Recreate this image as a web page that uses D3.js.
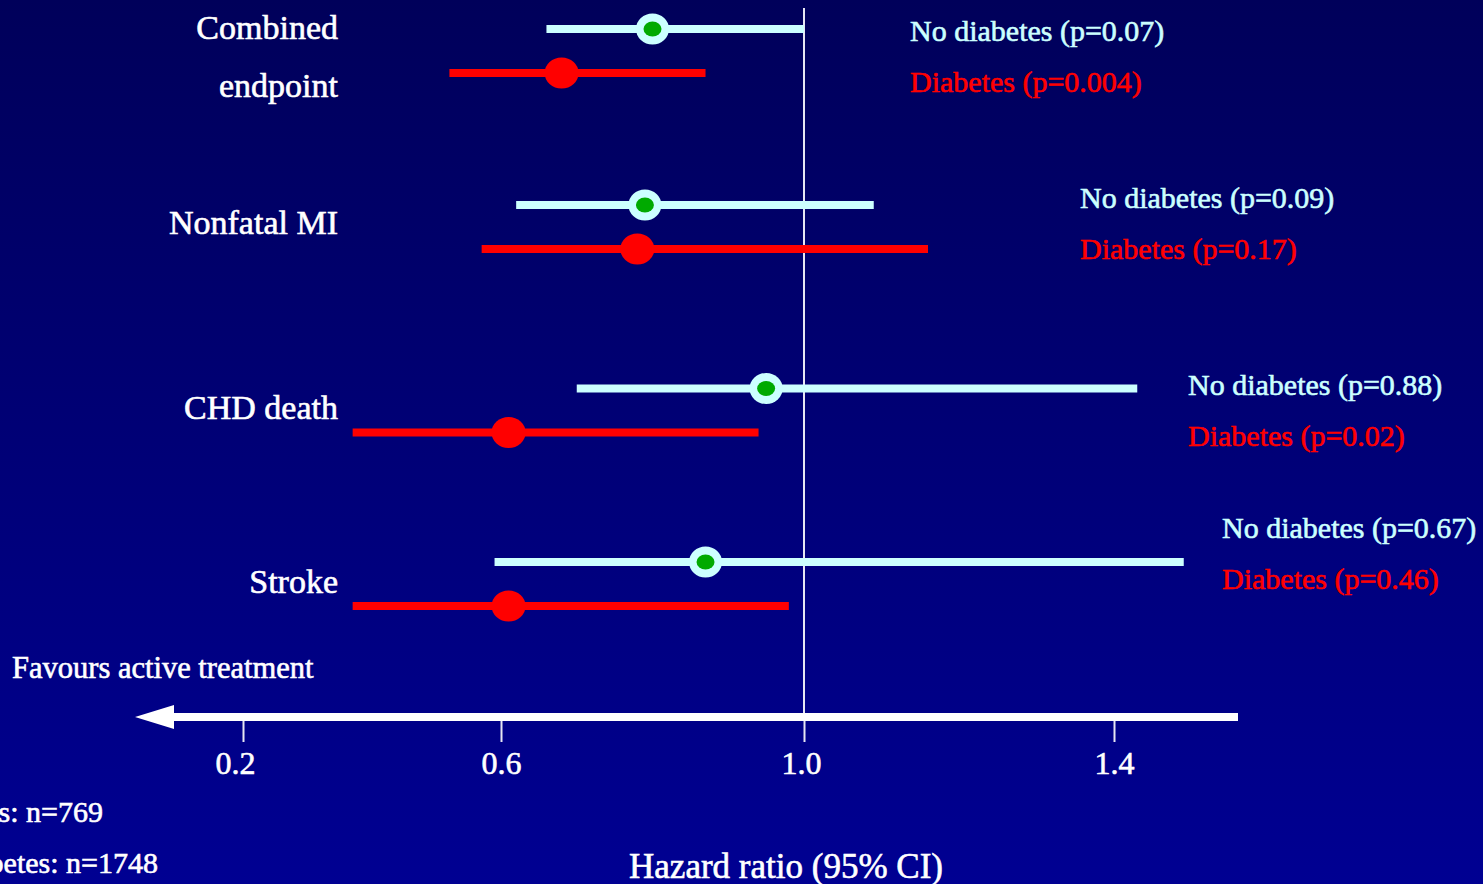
<!DOCTYPE html>
<html>
<head>
<meta charset="utf-8">
<script src="https://cdn.jsdelivr.net/npm/d3@7/dist/d3.min.js"></script>
<style>
  html, body { margin: 0; padding: 0; background: #000070; overflow: hidden; }
  svg { display: block; }
  text { font-family: "Liberation Serif", "DejaVu Serif", serif; stroke-width: 0.6px; }
</style>
</head>
<body>
<svg id="chart" width="1483" height="884"></svg>
<script>
// Subgroup forest plot: hazard ratios with 95% CI, without and with diabetes
const categories = ["Combined endpoint", "Nonfatal MI", "CHD death", "Stroke"];
const categoryLines = [["Combined", "endpoint"], ["Nonfatal MI"], ["CHD death"], ["Stroke"]];

const noDiabHR = [0.80, 0.79, 0.95, 0.87];
const noDiabLo = [0.66, 0.62, 0.70, 0.59];
const noDiabHi = [1.00, 1.09, 1.43, 1.49];
const noDiabP  = ["0.07", "0.09", "0.88", "0.67"];

const diabHR = [0.68, 0.78, 0.61, 0.61];
const diabLo = [0.52, 0.57, 0.37, 0.37];
const diabHi = [0.87, 1.16, 0.94, 0.98];
const diabP  = ["0.004", "0.17", "0.02", "0.46"];

const tickValues = [0.2, 0.6, 1.0, 1.4];
const sampleLabels = ["Diabetes: n=769", "No diabetes: n=1748"];

// Layout
const W = 1483, H = 884;
const CYAN = "#CCFFFF", RED = "#FF0000", GREEN = "#00AA00", WHITE = "#FFFFFF";
const axisY = 717;
const pLabelX = [910, 1080, 1188, 1222];
const pLabelY = [30, 197, 384, 527];

const svg = d3.select("#chart");

// Background gradient
const defs = svg.append("defs");
const grad = defs.append("linearGradient").attr("id", "bg").attr("x1", 0).attr("y1", 0).attr("x2", 0).attr("y2", 1);
grad.append("stop").attr("offset", "0%").attr("stop-color", "#00005A");
grad.append("stop").attr("offset", "100%").attr("stop-color", "#000092");
svg.append("rect").attr("width", W).attr("height", H).attr("fill", "url(#bg)");

// Scales (hand-spaced tick positions on the hazard ratio axis)
const x = d3.scaleLinear().domain(tickValues).range([243, 501, 804, 1114]);
const y = d3.scaleOrdinal().domain(categories).range([51, 227, 410.5, 584]);
const seriesOffset = 22;

// Helper: text filled and lightly stroked in one colour
function label(sel, color) {
  return sel.attr("fill", color).attr("stroke", color);
}

// Reference line at HR = 1
svg.append("line")
  .attr("x1", x(1)).attr("x2", x(1))
  .attr("y1", 8).attr("y2", axisY)
  .attr("stroke", "#E6E6F2").attr("stroke-width", 2);

// Axis with ticks below the arrow
const axis = d3.axisBottom(x).tickValues(tickValues).tickFormat(d3.format(".1f")).tickSize(25).tickPadding(9);
const gAxis = svg.append("g").attr("transform", `translate(0,${axisY})`).call(axis);
gAxis.select(".domain").remove();
gAxis.selectAll(".tick line").attr("stroke", "#E6E6F2").attr("stroke-width", 2);
gAxis.selectAll(".tick text")
  .attr("fill", WHITE).attr("stroke", WHITE).attr("stroke-width", 0.9)
  .attr("dx", d => d === 0.2 ? -8 : d === 1.0 ? -3 : 0)
  .style("font-family", "'Liberation Serif', serif")
  .style("font-size", "32px");

// Arrow pointing left ("Favours active treatment")
svg.append("line")
  .attr("x1", 172).attr("x2", 1238)
  .attr("y1", axisY).attr("y2", axisY)
  .attr("stroke", WHITE).attr("stroke-width", 8);
svg.append("path")
  .attr("d", d3.line()([[135, axisY], [174, axisY - 12], [174, axisY + 12]]) + "Z")
  .attr("fill", WHITE);

// Confidence interval bars and point estimates
const rows = categories.map((c, i) => ({
  c, i,
  nd: { hr: noDiabHR[i], lo: noDiabLo[i], hi: noDiabHi[i] },
  d:  { hr: diabHR[i], lo: diabLo[i], hi: diabHi[i] }
}));

const g = svg.append("g");
rows.forEach(r => {
  const yn = y(r.c) - seriesOffset;
  const yd = y(r.c) + seriesOffset;

  g.append("line")
    .attr("x1", x(r.nd.lo)).attr("x2", x(r.nd.hi))
    .attr("y1", yn).attr("y2", yn)
    .attr("stroke", CYAN).attr("stroke-width", 8);
  g.append("ellipse")
    .attr("cx", x(r.nd.hr)).attr("cy", yn)
    .attr("rx", 16.5).attr("ry", 15.5).attr("fill", CYAN);
  g.append("ellipse")
    .attr("cx", x(r.nd.hr)).attr("cy", yn)
    .attr("rx", 9).attr("ry", 7.5).attr("fill", GREEN);

  g.append("line")
    .attr("x1", x(r.d.lo)).attr("x2", x(r.d.hi))
    .attr("y1", yd).attr("y2", yd)
    .attr("stroke", RED).attr("stroke-width", 8);
  g.append("ellipse")
    .attr("cx", x(r.d.hr)).attr("cy", yd)
    .attr("rx", 17).attr("ry", 15.5).attr("fill", RED);
});

// Category labels
const catOffsets = [[-24, 34], [-5], [-3], [-3]];
categoryLines.forEach((lines, i) => {
  lines.forEach((t, j) => {
    label(svg.append("text"), WHITE)
      .attr("x", 338).attr("y", y(categories[i]) + catOffsets[i][j])
      .attr("text-anchor", "end").attr("dominant-baseline", "central")
      .style("font-size", "34px")
      .text(t);
  });
});

// p-value labels
categories.forEach((c, i) => {
  label(svg.append("text"), CYAN)
    .attr("x", pLabelX[i]).attr("y", pLabelY[i])
    .attr("dominant-baseline", "central")
    .style("font-size", "30px")
    .text(`No diabetes (p=${noDiabP[i]})`);
  label(svg.append("text"), RED)
    .attr("x", pLabelX[i]).attr("y", pLabelY[i] + 51)
    .attr("dominant-baseline", "central")
    .style("font-size", "30px")
    .text(`Diabetes (p=${diabP[i]})`);
});

// Direction label
label(svg.append("text"), WHITE)
  .attr("x", 12).attr("y", 668)
  .attr("dominant-baseline", "central")
  .style("font-size", "30.5px")
  .text("Favours active treatment");

// Sample sizes
label(svg.append("text"), WHITE)
  .attr("x", 103).attr("y", 811)
  .attr("text-anchor", "end").attr("dominant-baseline", "central")
  .style("font-size", "30px")
  .text(sampleLabels[0]);
label(svg.append("text"), WHITE)
  .attr("x", 158).attr("y", 862)
  .attr("text-anchor", "end").attr("dominant-baseline", "central")
  .style("font-size", "30px")
  .text(sampleLabels[1]);

// Axis title
label(svg.append("text"), WHITE)
  .attr("x", 786).attr("y", 866)
  .attr("text-anchor", "middle").attr("dominant-baseline", "central")
  .style("font-size", "35px")
  .text("Hazard ratio (95% CI)");
</script>
</body>
</html>
